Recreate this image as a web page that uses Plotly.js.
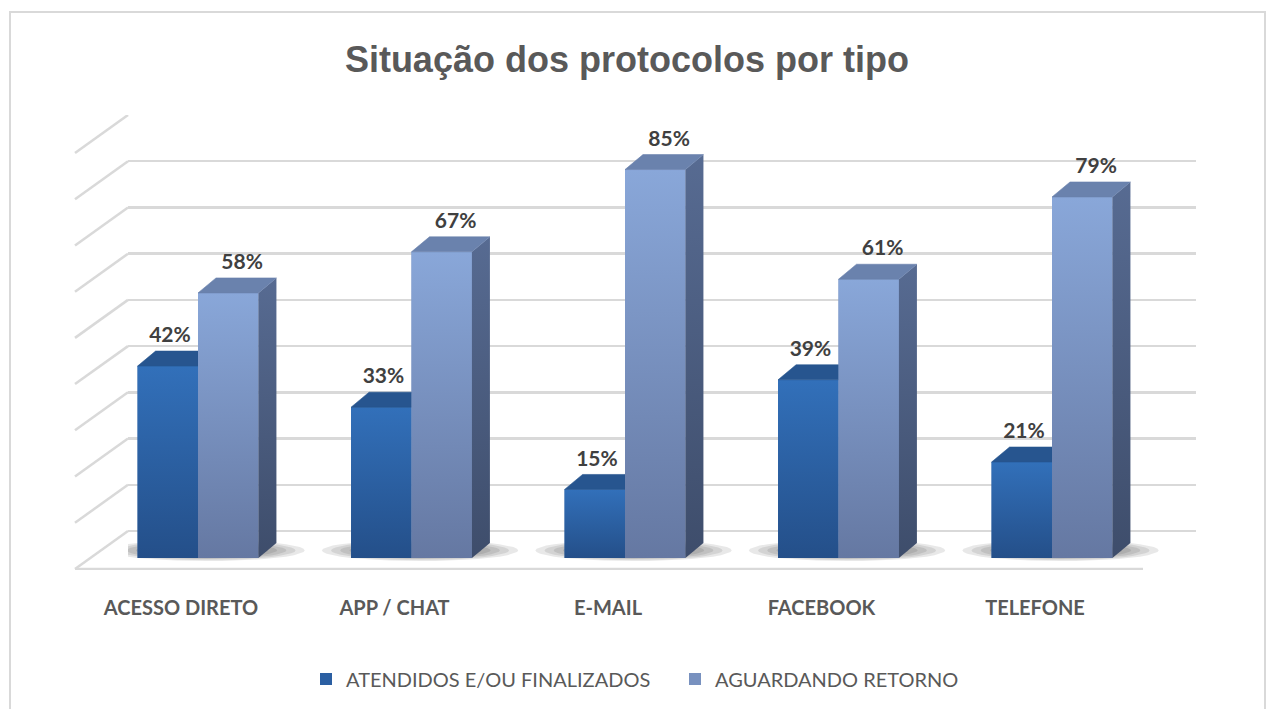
<!DOCTYPE html>
<html><head><meta charset="utf-8">
<script src="https://cdn.plot.ly/plotly-3.0.1.min.js"></script>
<style>html,body{margin:0;padding:0;background:#fff}#chart{width:1269px;height:709px}</style>
</head><body><div id="chart"></div>
<script>
// ---- data ----
const categories = ['ACESSO DIRETO', 'APP / CHAT', 'E-MAIL', 'FACEBOOK', 'TELEFONE'];
const atendidos = [0.42, 0.33, 0.15, 0.39, 0.21];
const aguardando = [0.58, 0.67, 0.85, 0.61, 0.79];
const seriesNames = ['ATENDIDOS E/OU FINALIZADOS', 'AGUARDANDO RETORNO'];
const gridTicks = [0, 0.1, 0.2, 0.3, 0.4, 0.5, 0.6, 0.7, 0.8, 0.9];
const chartTitle = 'Situação dos protocolos por tipo';

// ---- style / geometry ----
const BW = 0.283;     // bar width (category units)
const DX = 0.0843;    // 3D depth in x
const DY = 0.0328;    // 3D depth in y
const C = {
  darkFront: '#2b5fa2', darkFrontTop: '#3270ba', darkFrontBot: '#244f89', darkTop: '#27558f',
  lightFront: '#7891bf', lightFrontTop: '#89a7d9', lightFrontBot: '#6578a2',
  lightSideTop: '#576b92', lightSideBot: '#3e4d6b', lightTop: '#6a82ad',
  grid: '#d9d9d9', text: '#404040', axis: '#595959'
};
const pct = v => Math.round(v * 100) + '%';
const xs = categories.map((_, i) => i);

const traces = [];

// soft floor shadows (back subplot, beneath the bars)
xs.forEach(c => {
  [1, 0.9, 0.8, 0.7, 0.6].forEach(s => {
    const px = [], py = [];
    const cx = c + 0.04, cy = -0.042, rx = 0.43 * s + 0.03, ry = 0.023 * s;
    for (let k = 0; k <= 40; k++) {
      const t = k / 40 * 2 * Math.PI;
      px.push(cx + rx * Math.cos(t));
      py.push(cy + ry * Math.sin(t));
    }
    traces.push({type: 'scatter', x: px, y: py, xaxis: 'x', yaxis: 'y', mode: 'lines',
      fill: 'toself', fillcolor: 'rgba(0,0,0,0.09)', line: {width: 0},
      showlegend: false, hoverinfo: 'skip'});
  });
});

// front faces (bars)
traces.push({type: 'bar', name: seriesNames[0], x: xs, y: atendidos, xaxis: 'x2', yaxis: 'y2',
  width: BW, offset: -BW, marker: {color: C.darkFront, line: {width: 0}}, hoverinfo: 'skip'});
traces.push({type: 'bar', name: seriesNames[1], x: xs, y: aguardando, xaxis: 'x2', yaxis: 'y2',
  width: BW, offset: 0, marker: {color: C.lightFront, line: {width: 0}}, hoverinfo: 'skip'});

function face(px, py, color, grad) {
  const t = {type: 'scatter', x: px, y: py, xaxis: 'x2', yaxis: 'y2', mode: 'lines',
    fill: 'toself', fillcolor: color, line: {width: grad ? 0 : 0.6, color: color},
    showlegend: false, hoverinfo: 'skip'};
  if (grad) t.fillgradient = {type: 'vertical', colorscale: [[0, grad[0]], [1, grad[1]]]};
  traces.push(t);
}
xs.forEach((c, i) => {
  const a = atendidos[i], b = aguardando[i];
  // shading of the dark front face
  face([c - BW, c - BW, c, c, c - BW], [0, a, a, 0, 0], C.darkFront, [C.darkFrontBot, C.darkFrontTop]);
  // dark top (visible part only)
  face([c - BW, c - BW + DX, c, c, c - BW], [a, a + DY, a + DY, a, a], C.darkTop);
  // shading of the light front face
  face([c, c, c + BW, c + BW, c], [0, b, b, 0, 0], C.lightFront, [C.lightFrontBot, C.lightFrontTop]);
  // light side
  face([c + BW, c + BW + DX, c + BW + DX, c + BW, c + BW], [0, DY, b + DY, b, 0], C.lightSideBot,
       [C.lightSideBot, C.lightSideTop]);
  // light top
  face([c, c + DX, c + BW + DX, c + BW, c], [b, b + DY, b + DY, b, b], C.lightTop);
});

// data labels
const labelFont = {family: 'Lato, sans-serif', size: 21, color: C.text, weight: 'bold'};
traces.push({type: 'scatter', mode: 'text', xaxis: 'x2', yaxis: 'y2', cliponaxis: false,
  x: xs.map(c => c - BW / 2 + 0.01), y: atendidos.map(v => v + 0.0635),
  text: atendidos.map(pct), textposition: 'middle center', textfont: labelFont,
  showlegend: false, hoverinfo: 'skip'});
traces.push({type: 'scatter', mode: 'text', xaxis: 'x2', yaxis: 'y2', cliponaxis: false,
  x: xs.map(c => c + BW / 2 + 0.065), y: aguardando.map(v => v + 0.0635),
  text: aguardando.map(pct), textposition: 'middle center', textfont: labelFont,
  showlegend: false, hoverinfo: 'skip'});

// ---- layout ----
const W = 1269, H = 709;
const gridShapes = [];
gridTicks.forEach(v => {
  gridShapes.push({type: 'line', layer: 'below', xref: 'paper', yref: 'y',
    x0: 75 / W, y0: v - 0.0822, x1: 128 / W, y1: v, line: {color: C.grid, width: 2.5}});
});
gridShapes.push({type: 'line', layer: 'below', xref: 'paper', yref: 'y',
  x0: 75 / W, y0: -0.0822, x1: 1143 / W, y1: -0.0822, line: {color: C.grid, width: 2.5}});
gridShapes.push({type: 'rect', layer: 'below', xref: 'paper', yref: 'paper',
  x0: 10 / W, x1: 1265 / W, y0: -0.1, y1: (H - 12) / H, line: {color: C.grid, width: 2}, fillcolor: 'rgba(0,0,0,0)'});

const layout = {
  width: W, height: H,
  margin: {l: 0, r: 0, t: 0, b: 0},
  paper_bgcolor: '#ffffff', plot_bgcolor: 'rgba(0,0,0,0)',
  hovermode: false, barmode: 'overlay',
  title: {text: chartTitle, x: 0.494, xanchor: 'center', y: 1 - 59 / H, yanchor: 'middle',
    xref: 'paper', yref: 'paper',
    font: {family: 'Liberation Sans, Arial, sans-serif', size: 36, color: C.axis, weight: 'bold'}},
  xaxis: {domain: [128 / W, 1196 / W], range: [-0.3279, 4.6745], visible: false, fixedrange: true},
  yaxis: {domain: [(H - 570) / H, (H - 115) / H], range: [-0.0844, 0.9], anchor: 'x',
    tickmode: 'array', tickvals: gridTicks, showgrid: true, gridcolor: C.grid, gridwidth: 2.5,
    showticklabels: false, zeroline: false, showline: false, ticks: '', fixedrange: true},
  xaxis2: {domain: [91.25 / W, 1158.75 / W], range: [-0.5, 4.5], anchor: 'y2',
    tickmode: 'array', tickvals: xs, ticktext: categories, showgrid: false, zeroline: false,
    showline: false, ticks: '', ticklabelshift: -17, ticklabelstandoff: 36,
    tickfont: {family: 'Lato, sans-serif', size: 20, color: C.axis, weight: 'bold'}, fixedrange: true},
  yaxis2: {domain: [(H - 558) / H, (H - 101) / H], range: [0, 1], anchor: 'x2',
    showgrid: false, zeroline: false, showline: false, showticklabels: false, ticks: '', fixedrange: true},
  showlegend: true,
  legend: {orientation: 'h', x: 306 / W, xanchor: 'left', y: 30 / H, yanchor: 'middle',
    entrywidth: 324, entrywidthmode: 'pixels',
    font: {family: 'Lato, sans-serif', size: 20, color: C.axis}, traceorder: 'normal',
    bgcolor: 'rgba(0,0,0,0)'},
  shapes: gridShapes
};

Plotly.newPlot('chart', traces, layout, {displayModeBar: false, staticPlot: true});
</script>
</body></html>
